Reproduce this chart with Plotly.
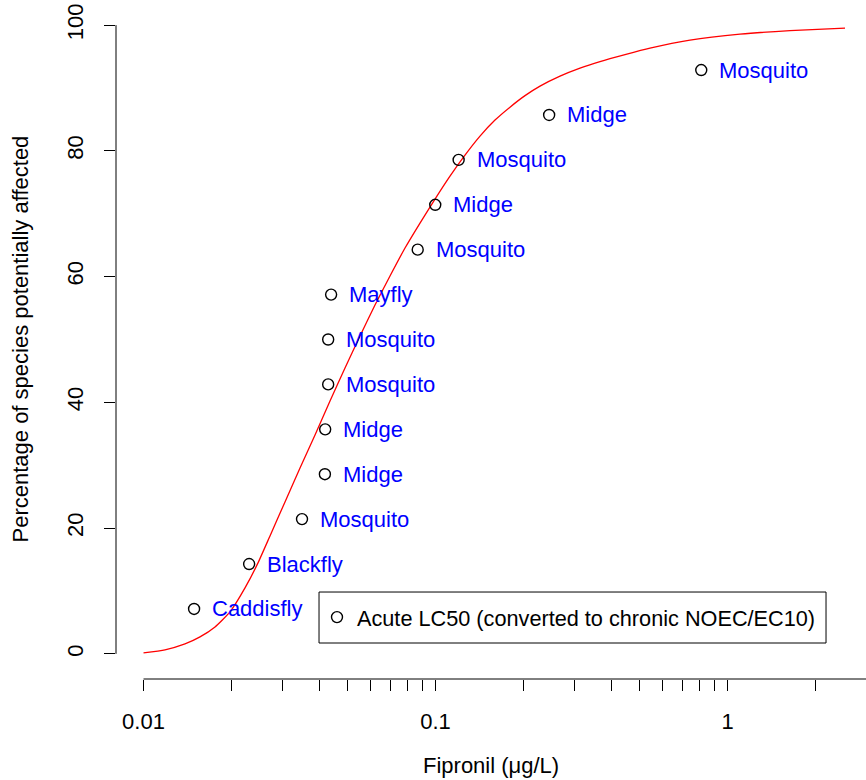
import numpy as np
import plotly.graph_objects as go

# ---- data ----
species = ["Caddisfly", "Blackfly", "Mosquito", "Midge", "Midge", "Mosquito",
           "Mosquito", "Mayfly", "Mosquito", "Midge", "Mosquito", "Midge", "Mosquito"]
conc = [0.0149, 0.0230, 0.0349, 0.0418, 0.0419, 0.0429, 0.0429, 0.0439,
        0.0869, 0.0998, 0.120, 0.245, 0.813]
pct = [7.14, 14.29, 21.43, 28.57, 35.71, 42.86, 50.0, 57.14, 64.29, 71.43,
       78.57, 85.71, 92.86]

# fitted species sensitivity curve
curve_x = [0.01, 0.011847, 0.013871, 0.015613, 0.017574, 0.019781, 0.022264,
           0.024667, 0.027115, 0.03052, 0.034354, 0.038669, 0.04352, 0.048985,
           0.055135, 0.062058, 0.06985, 0.078627, 0.088497, 0.099607, 0.11211,
           0.12619, 0.14203, 0.15987, 0.17994, 0.20254, 0.22797, 0.26691,
           0.31251, 0.36589, 0.44565, 0.54273, 0.74403, 1.1036, 1.6369, 2.5258]
curve_y = [0.16, 0.64, 1.59, 2.70, 4.29, 6.68, 10.49, 14.47, 18.76, 24.17,
           29.57, 34.82, 40.22, 45.47, 50.56, 55.48, 60.10, 64.55, 68.52, 72.34,
           75.99, 79.33, 82.35, 84.90, 86.96, 88.79, 90.30, 91.89, 93.16, 94.20,
           95.31, 96.34, 97.62, 98.57, 99.13, 99.52]

x_tickvals = [0.01, 0.02, 0.03, 0.04, 0.05, 0.06, 0.07, 0.08, 0.09,
              0.1, 0.2, 0.3, 0.4, 0.5, 0.6, 0.7, 0.8, 0.9, 1, 2, 3]
x_ticklabels = {0.01: "0.01", 0.1: "0.1", 1: "1"}
y_tickvals = [0, 20, 40, 60, 80, 100]

legend_label = "Acute LC50 (converted to chronic NOEC/EC10)"
FONT = "Liberation Sans, Arial, sans-serif"
FS = 22

fig = go.Figure()

fig.add_trace(go.Scatter(
    x=curve_x, y=curve_y, mode="lines",
    line=dict(color="#ff0000", width=1.3, shape="spline", smoothing=0.5),
    showlegend=False, hoverinfo="skip"))

fig.add_trace(go.Scatter(
    x=conc, y=pct, mode="markers", name=legend_label,
    marker=dict(symbol="circle-open", size=11, color="black",
                line=dict(width=1.4, color="black")),
    showlegend=True, cliponaxis=False))

for xv, yv, s in zip(conc, pct, species):
    fig.add_annotation(x=np.log10(xv), y=yv, xref="x", yref="y", text=s,
                       showarrow=False, xanchor="left", yanchor="middle",
                       xshift=16, font=dict(color="#0000ff", size=FS, family=FONT))

# R-style axis lines (only spanning the tick range)
fig.add_shape(type="line", xref="paper", yref="y", x0=0, x1=0, y0=0, y1=100,
              line=dict(color="black", width=1))
fig.add_shape(type="line", xref="x", yref="paper", x0=0.01, x1=3, y0=0, y1=0,
              line=dict(color="black", width=1))

# legend box
fig.add_shape(type="rect", xref="paper", yref="paper",
              x0=0.2707, x1=0.9467, y0=0.0530, y1=0.1281,
              line=dict(color="black", width=1), fillcolor="white", layer="below")

# axis titles
fig.add_annotation(text="Fipronil (μg/L)", xref="paper", yref="paper", x=0.5, y=0,
                   yanchor="middle", yshift=-86, showarrow=False,
                   font=dict(size=FS, family=FONT, color="black"))
fig.add_annotation(text="Percentage of species potentially affected", xref="paper",
                   yref="paper", x=0, y=0.5, xanchor="center", xshift=-96,
                   textangle=-90, showarrow=False,
                   font=dict(size=FS, family=FONT, color="black"))

fig.update_xaxes(type="log", range=[-2.0942, 0.4743],
                 tickvals=x_tickvals,
                 ticktext=[x_ticklabels.get(v, "") for v in x_tickvals],
                 ticks="outside", ticklen=11, tickwidth=1, tickcolor="black",
                 showline=False, showgrid=False, zeroline=False,
                 ticklabelstandoff=12,
                 tickfont=dict(size=FS, family=FONT, color="black"))
fig.update_yaxes(range=[-4, 104], tickvals=y_tickvals,
                 ticks="outside", ticklen=11, tickwidth=1, tickcolor="black",
                 showline=False, showgrid=False, zeroline=False,
                 tickangle=-90, ticklabelstandoff=12,
                 tickfont=dict(size=FS, family=FONT, color="black"))

fig.update_layout(
    width=866, height=780, autosize=False,
    margin=dict(l=116, r=0, t=0, b=101),
    plot_bgcolor="white", paper_bgcolor="white",
    font=dict(family=FONT, color="black"),
    legend=dict(x=0.268, y=0.0906, xanchor="left", yanchor="middle",
                borderwidth=0, bgcolor="rgba(0,0,0,0)",
                font=dict(size=21.7, family=FONT, color="black")),
)

fig.write_html("out.html")
